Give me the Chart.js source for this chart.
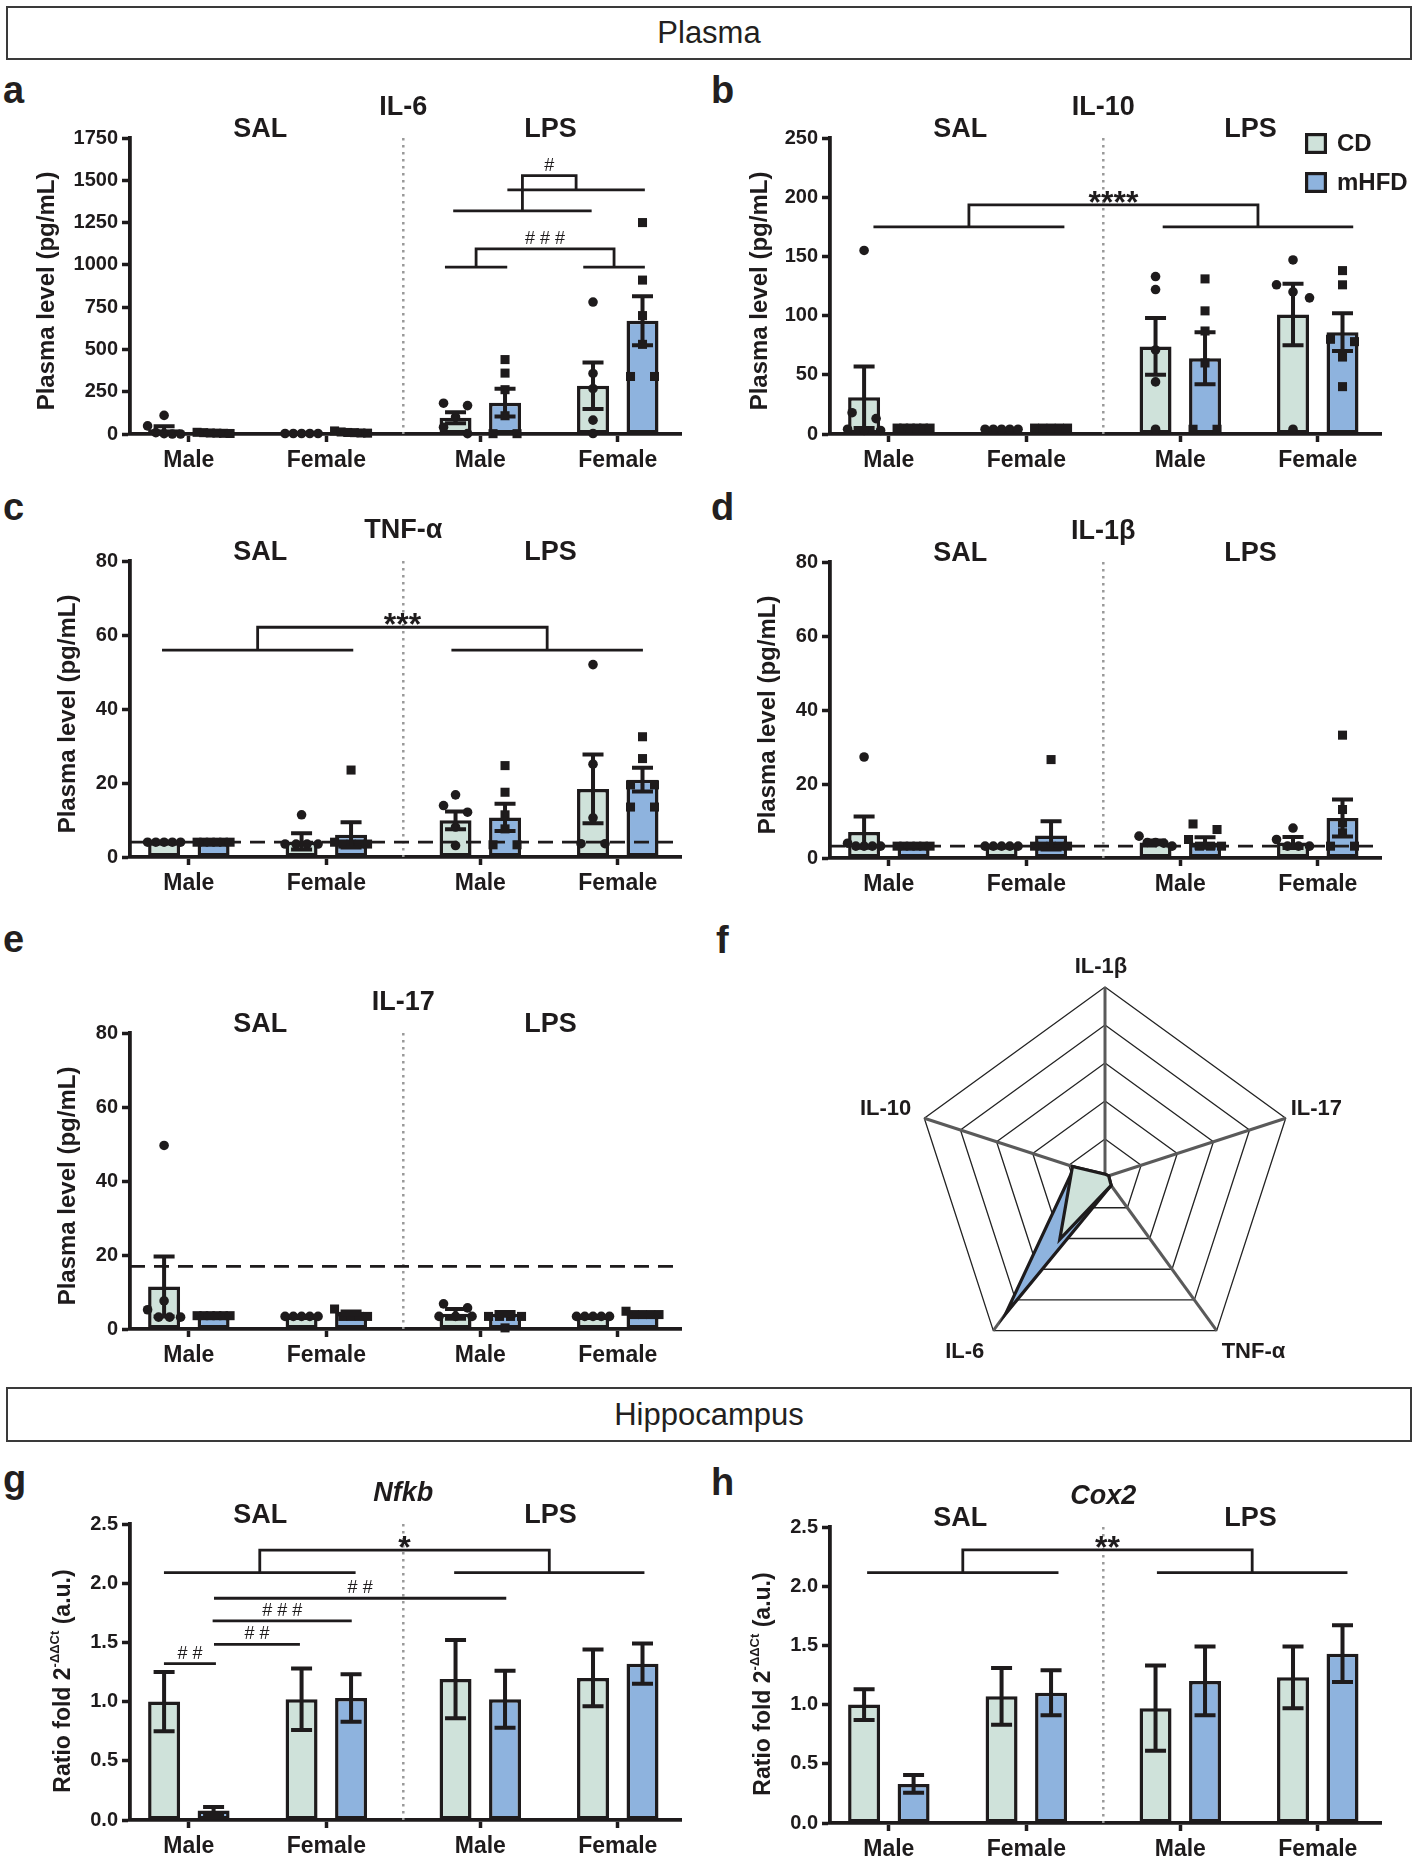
<!DOCTYPE html>
<html>
<head>
<meta charset="utf-8">
<script src="https://cdn.jsdelivr.net/npm/chart.js@4.4.1/dist/chart.umd.min.js"></script>
<style>
html, body { margin: 0; padding: 0; background: #fff; overflow: hidden; }
body { width: 1418px; height: 1860px; position: relative; font-family: 'Liberation Sans', Arial, sans-serif; color: #231f20; }
.box { position: absolute; left: 6px; width: 1402px; border: 2px solid #3a3a3a; text-align: center; font-size: 31px; }
.lbl { position: absolute; font-weight: bold; font-size: 38px; line-height: 38px; }
canvas { position: absolute; }
</style>
</head>
<body>
<div class="box" style="top:6px;height:50px;line-height:50px;">Plasma</div>
<div class="box" style="top:1387px;height:51px;line-height:51px;">Hippocampus</div>
<div class="lbl" style="left:3px;top:71px">a</div>
<div class="lbl" style="left:711px;top:71px">b</div>
<div class="lbl" style="left:3px;top:488px">c</div>
<div class="lbl" style="left:711px;top:488px">d</div>
<div class="lbl" style="left:3px;top:920px">e</div>
<div class="lbl" style="left:716px;top:921px">f</div>
<div class="lbl" style="left:3px;top:1460px">g</div>
<div class="lbl" style="left:711px;top:1463px">h</div>
<canvas id="cvF" width="598" height="440" style="left:820px;top:940px"></canvas>
<script>
// ---- categories / labels ----
const groupLabels = ['Male', 'Female', 'Male', 'Female'];
const treatments = ['SAL', 'LPS'];
const seriesNames = ['CD', 'mHFD'];

// ---- a: IL-6 (pg/mL) ----
const il6CdMean = [28, 3, 96, 285];
const il6CdSem = [18, 0.5, 33, 137];
const il6HfdMean = [6, 10, 185, 670];
const il6HfdSem = [1.5, 3, 82, 145];
const il6CdPts = [[110, 48, 8, 2, 0, 0], [3, 3, 3, 3, 3], [182, 168, 100, 40, 2], [780, 358, 268, 82, 3]];
const il6HfdPts = [[10, 8, 6, 5, 4, 3], [18, 12, 9, 8, 6, 5], [440, 360, 262, 108, 2, 2], [1250, 910, 700, 530, 340, 340]];
const il6Brackets = [
  { l: [2.863, 3.316, 987], r: [3.869, 4.317, 987], top: 1095, text: '# # #' },
  { l: [2.923, 3.930, 1319], r: [3.317, 4.317, 1443], top: 1528, text: '#' }
];

// ---- b: IL-10 ----
const il10CdMean = [31, 4, 74, 101];
const il10CdSem = [26, 0.3, 24, 26];
const il10HfdMean = [5, 5, 64, 86];
const il10HfdSem = [0.3, 0.3, 22, 16];
const il10CdPts = [[155, 18, 13, 4, 3, 3], [4, 4, 4, 4, 4], [133, 122, 71, 44, 4], [147, 126, 120, 115, 4]];
const il10HfdPts = [[5, 5, 5, 5, 5, 5], [5, 5, 5, 5, 5], [131, 104, 87, 60, 4, 4], [138, 126, 80, 78, 65, 40]];
const il10Brackets = [{ l: [0.888, 2.277, 175], r: [2.992, 4.378, 175], top: 193.5, text: '****' }];

// ---- c: TNF-α ----
const tnfCdMean = [4.0, 4.2, 9.9, 18.4];
const tnfCdSem = [0.1, 2.2, 2.4, 9.3];
const tnfHfdMean = [4.0, 6.0, 10.7, 20.9];
const tnfHfdSem = [0.05, 3.4, 3.7, 3.2];
const tnfCdPts = [[4, 4, 4, 4, 4], [11.4, 3.5, 3.5, 3.5, 3.5], [16.8, 13.9, 12.1, 8.1, 3.1], [52, 25.1, 10.6, 3.6, 3.6]];
const tnfHfdPts = [[4, 4, 4, 4, 4, 4], [23.5, 4, 3.5, 3.5, 3.5, 3.5], [24.7, 17.5, 11.4, 7.6, 3.3, 3.3], [32.5, 26.6, 19.5, 19.5, 13.5, 13.5]];
const tnfLod = 4.0;
const tnfBrackets = [{ l: [0.805, 2.196, 55.9], r: [2.910, 4.303, 55.9], top: 62.1, text: '***' }];

// ---- d: IL-1β ----
const il1bCdMean = [7.0, 3.2, 4.2, 4.2];
const il1bCdSem = [4.2, 0.05, 0.5, 1.5];
const il1bHfdMean = [3.2, 6.1, 4.2, 10.8];
const il1bHfdSem = [0.05, 3.8, 1.4, 5.0];
const il1bCdPts = [[27.3, 4, 3.2, 3.2, 3.2, 3.2], [3.2, 3.2, 3.2, 3.2, 3.2], [5.9, 4.2, 4.2, 4.0, 3.2], [8.1, 5, 3.2, 3.2, 3.2]];
const il1bHfdPts = [[3.2, 3.2, 3.2, 3.2, 3.2, 3.2], [26.6, 3.2, 3.2, 3.2, 3.2, 3.2], [9.2, 7.7, 5, 3.2, 3.2, 3.2], [33.2, 13.1, 9.5, 6.8, 3.2, 3.2]];
const il1bLod = 3.2;

// ---- e: IL-17 ----
const il17CdMean = [11.5, 3.4, 4.1, 3.4];
const il17CdSem = [8.1, 0.05, 1.3, 0.05];
const il17HfdMean = [3.6, 4.3, 4.1, 4.1];
const il17HfdSem = [0.1, 0.4, 0.5, 0.2];
const il17CdPts = [[49.6, 7.6, 5.2, 3.2, 3.2, 3.2], [3.4, 3.4, 3.4, 3.4, 3.4], [6.8, 5.7, 3.4, 3.4, 3.4], [3.4, 3.4, 3.4, 3.4, 3.4]];
const il17HfdPts = [[3.6, 3.6, 3.6, 3.6, 3.6, 3.6], [5.4, 3.4, 3.4, 3.4, 3.4], [3.4, 3.4, 3.4, 3.4, 0.3], [4.8, 3.9, 3.9, 3.9, 3.9]];
const il17Lod = 16.9;

// ---- f: radar ----
const radarLabels = ['IL-1β', 'IL-17', 'TNF-α', 'IL-6', 'IL-10'];
const radarCd = [0.015, 0.02, 0.055, 0.405, 0.18];
const radarHfd = [0.015, 0.02, 0.055, 0.89, 0.17];

// ---- g: Nfkb ----
const nfkbCdMean = [1.0, 1.02, 1.19, 1.2];
const nfkbCdSem = [0.25, 0.26, 0.33, 0.24];
const nfkbHfdMean = [0.08, 1.03, 1.02, 1.32];
const nfkbHfdSem = [0.03, 0.2, 0.24, 0.17];
const nfkbBrackets = [{ l: [0.819, 2.213, 2.09], r: [2.93, 4.314, 2.09], top: 2.28, text: '*' }];
const nfkbLines = [
  { x: [1.183, 3.309], y: 1.873, text: '# #' },
  { x: [1.173, 2.185], y: 1.681, text: '# # #' },
  { x: [1.183, 1.808], y: 1.484, text: '# #' },
  { x: [0.819, 1.197], y: 1.32, text: '# #' }
];

// ---- h: Cox2 ----
const cox2CdMean = [1.0, 1.07, 0.97, 1.23];
const cox2CdSem = [0.13, 0.24, 0.36, 0.26];
const cox2HfdMean = [0.33, 1.1, 1.2, 1.43];
const cox2HfdSem = [0.075, 0.19, 0.29, 0.24];
const cox2Brackets = [{ l: [0.842, 2.234, 2.115], r: [2.95, 4.336, 2.115], top: 2.307, text: '**' }];

// ---- layout / style ----
const FONT = "'Liberation Sans', Arial, Helvetica, sans-serif";
const INK = '#1e1b1c';
const CD_FILL = '#cfe2da';
const HFD_FILL = '#8eb3de';
const groupPos = [1, 2, 3.12, 4.12];
const X_MIN = 0.572, X_MAX = 4.58;
const UNIT_PX = 137.5;
const AXIS_LEN = 551;
const BAR_OFF = 0.18;
const DIVIDER = 2.56, SAL_X = 1.52, LPS_X = 3.63;
const PAD_TOP = 90, PLOT_H = 296, X_AREA = 50;
const COLS = [{ left: 0, width: 700, axis: 130 }, { left: 700, width: 718, axis: 130 }];
const plasmaTitle = [['Plasma level (pg/mL)', 24, 0]];
const ratioTitle = [['Ratio fold 2', 23, 0], ['-ΔΔCt', 13, 9], [' (a.u.)', 23, 0]];

Chart.defaults.font.family = FONT;
Chart.defaults.color = INK;

// Prism-like horizontal spreading of points that sit on top of each other
function spread(vals, pxPerVal) {
  const order = vals.map((v, i) => i).sort((a, b) => vals[b] - vals[a]);
  const off = vals.map(() => 0);
  let run = [];
  const flush = () => {
    const n = run.length;
    const step = n > 1 ? Math.min(24, 33 / (n - 1)) : 0;
    run.forEach((k, j) => { off[k] = (j - (n - 1) / 2) * step; });
    run = [];
  };
  order.forEach(k => {
    if (run.length && (vals[run[run.length - 1]] - vals[k]) * pxPerVal > 8) flush();
    run.push(k);
  });
  flush();
  return off;
}

function pointData(groups, side, pxPerVal) {
  const out = [];
  groups.forEach((vals, g) => {
    const off = spread(vals, pxPerVal);
    vals.forEach((v, k) => out.push({ x: groupPos[g] + side * BAR_OFF + off[k] / UNIT_PX, y: v }));
  });
  return out;
}

function drawYTitle(ctx, ca, p) {
  ctx.save();
  ctx.translate(ca.left + p.yTitleOff, (ca.top + ca.bottom) / 2 + p.yTitleDy);
  ctx.rotate(-Math.PI / 2);
  ctx.textBaseline = 'middle';
  ctx.textAlign = 'left';
  ctx.fillStyle = INK;
  let total = 0;
  p.yTitle.forEach(([t, s]) => { ctx.font = `bold ${s}px ${FONT}`; total += ctx.measureText(t).width; });
  let cx = -total / 2;
  p.yTitle.forEach(([t, s, rise]) => {
    ctx.font = `bold ${s}px ${FONT}`;
    ctx.fillText(t, cx, -rise);
    cx += ctx.measureText(t).width;
  });
  ctx.restore();
}

function annotText(ctx, text, xPix, lineY) {
  const star = text.indexOf('*') >= 0;
  ctx.font = star ? `bold 32px ${FONT}` : `18px ${FONT}`;
  ctx.textAlign = 'center';
  ctx.textBaseline = 'alphabetic';
  ctx.fillText(text, xPix, star ? lineY + 8 : lineY - 5);
}

function decorPlugin(p) {
  return {
    id: 'decor',
    beforeDatasetsDraw(chart) {
      const { ctx, chartArea: ca, scales: { x } } = chart;
      const dx = x.getPixelForValue(DIVIDER);
      ctx.save();
      ctx.strokeStyle = '#999';
      ctx.lineWidth = 2.5;
      ctx.setLineDash([2.5, 4.5]);
      ctx.beginPath(); ctx.moveTo(dx, ca.top); ctx.lineTo(dx, ca.bottom); ctx.stroke();
      ctx.restore();
    },
    afterDatasetsDraw(chart) {
      const { ctx, chartArea: ca, scales: { x, y } } = chart;
      const px = v => x.getPixelForValue(v), py = v => y.getPixelForValue(v);
      ctx.save();
      ctx.strokeStyle = INK;
      ctx.fillStyle = INK;
      if (p.lod !== undefined) {
        ctx.lineWidth = 2.8;
        ctx.setLineDash([15, 9]);
        ctx.beginPath(); ctx.moveTo(ca.left, py(p.lod)); ctx.lineTo(ca.right, py(p.lod)); ctx.stroke();
        ctx.setLineDash([]);
      }
      // SEM error bars
      [[0, p.cdMean, p.cdSem], [1, p.hfdMean, p.hfdSem]].forEach(([di, m, s]) => {
        chart.getDatasetMeta(di).data.forEach((bar, i) => {
          const yt = py(m[i] + s[i]), yb = py(Math.max(0, m[i] - s[i]));
          ctx.lineWidth = 4;
          ctx.beginPath();
          ctx.moveTo(bar.x, yt); ctx.lineTo(bar.x, yb);
          ctx.moveTo(bar.x - 10.5, yt); ctx.lineTo(bar.x + 10.5, yt);
          ctx.moveTo(bar.x - 10.5, yb); ctx.lineTo(bar.x + 10.5, yb);
          ctx.stroke();
        });
      });
      // significance brackets
      ctx.lineWidth = 2.8;
      (p.brackets || []).forEach(b => {
        const lm = (b.l[0] + b.l[1]) / 2, rm = (b.r[0] + b.r[1]) / 2;
        ctx.beginPath();
        ctx.moveTo(px(b.l[0]), py(b.l[2])); ctx.lineTo(px(b.l[1]), py(b.l[2]));
        ctx.moveTo(px(b.r[0]), py(b.r[2])); ctx.lineTo(px(b.r[1]), py(b.r[2]));
        ctx.moveTo(px(lm), py(b.l[2])); ctx.lineTo(px(lm), py(b.top));
        ctx.lineTo(px(rm), py(b.top)); ctx.lineTo(px(rm), py(b.r[2]));
        ctx.stroke();
        annotText(ctx, b.text, px((lm + rm) / 2), py(b.top));
      });
      (p.lines || []).forEach(l => {
        ctx.beginPath();
        ctx.moveTo(px(l.x[0]), py(l.y)); ctx.lineTo(px(l.x[1]), py(l.y));
        ctx.stroke();
        annotText(ctx, l.text, px((l.x[0] + l.x[1]) / 2), py(l.y));
      });
      ctx.restore();
    },
    afterDraw(chart) {
      const { ctx, chartArea: ca, scales: { x } } = chart;
      ctx.save();
      ctx.fillStyle = INK;
      ctx.textAlign = 'center';
      ctx.textBaseline = 'middle';
      ctx.font = `${p.italic ? 'italic ' : ''}bold 27px ${FONT}`;
      ctx.fillText(p.title, x.getPixelForValue(DIVIDER), ca.top - 30);
      ctx.font = `bold 27px ${FONT}`;
      ctx.fillText(treatments[0], x.getPixelForValue(SAL_X), ca.top - 8);
      ctx.fillText(treatments[1], x.getPixelForValue(LPS_X), ca.top - 8);
      if (p.legend) {
        const bx = ca.left + 475, by = ca.top - 5;
        [CD_FILL, HFD_FILL].forEach((c, i) => {
          const yy = by + i * 39;
          ctx.fillStyle = c;
          ctx.fillRect(bx, yy, 22, 21);
          ctx.strokeStyle = INK;
          ctx.lineWidth = 3.2;
          ctx.strokeRect(bx + 1.6, yy + 1.6, 18.8, 17.8);
          ctx.fillStyle = INK;
          ctx.textAlign = 'left';
          ctx.font = `bold 24px ${FONT}`;
          ctx.fillText(seriesNames[i], bx + 32, yy + 11);
        });
      }
      ctx.restore();
      drawYTitle(ctx, ca, p);
    }
  };
}

function makeBarChart(s) {
  const col = COLS[s.col];
  const cv = document.createElement('canvas');
  cv.width = col.width;
  cv.height = PAD_TOP + PLOT_H + X_AREA;
  cv.style.left = col.left + 'px';
  cv.style.top = (s.top - PAD_TOP) + 'px';
  document.body.appendChild(cv);
  const pxPerVal = PLOT_H / s.yMax;
  const barStyle = { type: 'bar', borderColor: INK, borderWidth: 3.5, borderSkipped: false, order: 2,
    categoryPercentage: 0.72, barPercentage: 0.646 };
  const datasets = [
    Object.assign({ label: seriesNames[0], backgroundColor: CD_FILL,
      data: groupPos.map((g, i) => ({ x: g, y: s.cdMean[i] })) }, barStyle),
    Object.assign({ label: seriesNames[1], backgroundColor: HFD_FILL,
      data: groupPos.map((g, i) => ({ x: g, y: s.hfdMean[i] })) }, barStyle)
  ];
  if (s.cdPts) {
    datasets.push({ type: 'scatter', label: seriesNames[0] + ' animals', data: pointData(s.cdPts, -1, pxPerVal),
      pointStyle: 'circle', pointRadius: 4.8, backgroundColor: INK, borderWidth: 0, order: 1, clip: false });
    datasets.push({ type: 'scatter', label: seriesNames[1] + ' animals', data: pointData(s.hfdPts, 1, pxPerVal),
      pointStyle: 'rect', pointRadius: 6.4, backgroundColor: INK, borderWidth: 0, order: 1, clip: false });
  }
  const grid = { display: true, offset: false, drawOnChartArea: false, drawTicks: true, tickLength: 8,
    tickWidth: 3.5, tickColor: INK };
  const border = { display: true, color: INK, width: 3.8 };
  new Chart(cv, {
    type: 'bar',
    data: { datasets },
    options: {
      responsive: false,
      animation: false,
      events: [],
      layout: { padding: { top: PAD_TOP, left: 0, right: col.width - col.axis - AXIS_LEN, bottom: 0 } },
      plugins: { legend: { display: false }, tooltip: { enabled: false } },
      scales: {
        x: {
          type: 'linear', min: X_MIN, max: X_MAX, offset: false,
          afterBuildTicks: ax => { ax.ticks = groupPos.map(v => ({ value: v })); },
          afterFit: ax => { ax.height = X_AREA; },
          ticks: { autoSkip: false, maxRotation: 0, padding: 5, color: INK,
            font: { size: 23, weight: 'bold' }, callback: (v, i) => groupLabels[i] },
          grid, border
        },
        y: {
          min: 0, max: s.yMax,
          afterFit: ax => { ax.width = col.axis; },
          ticks: { stepSize: s.yStep, padding: 4, color: INK, font: { size: 20, weight: 'bold' },
            callback: v => Number(v).toFixed(s.dec) },
          grid, border
        }
      }
    },
    plugins: [decorPlugin(s)]
  });
}

const panelSpecs = [
  { col: 0, top: 138, yMax: 1750, yStep: 250, dec: 0, title: 'IL-6', yTitle: plasmaTitle, yTitleOff: -83, yTitleDy: 5,
    cdMean: il6CdMean, cdSem: il6CdSem, hfdMean: il6HfdMean, hfdSem: il6HfdSem, cdPts: il6CdPts, hfdPts: il6HfdPts,
    brackets: il6Brackets },
  { col: 1, top: 138, yMax: 250, yStep: 50, dec: 0, title: 'IL-10', yTitle: plasmaTitle, yTitleOff: -70, yTitleDy: 5,
    cdMean: il10CdMean, cdSem: il10CdSem, hfdMean: il10HfdMean, hfdSem: il10HfdSem, cdPts: il10CdPts, hfdPts: il10HfdPts,
    brackets: il10Brackets, legend: true },
  { col: 0, top: 561, yMax: 80, yStep: 20, dec: 0, title: 'TNF-α', yTitle: plasmaTitle, yTitleOff: -62, yTitleDy: 5,
    cdMean: tnfCdMean, cdSem: tnfCdSem, hfdMean: tnfHfdMean, hfdSem: tnfHfdSem, cdPts: tnfCdPts, hfdPts: tnfHfdPts,
    lod: tnfLod, brackets: tnfBrackets },
  { col: 1, top: 562, yMax: 80, yStep: 20, dec: 0, title: 'IL-1β', yTitle: plasmaTitle, yTitleOff: -62, yTitleDy: 5,
    cdMean: il1bCdMean, cdSem: il1bCdSem, hfdMean: il1bHfdMean, hfdSem: il1bHfdSem, cdPts: il1bCdPts, hfdPts: il1bHfdPts,
    lod: il1bLod },
  { col: 0, top: 1033, yMax: 80, yStep: 20, dec: 0, title: 'IL-17', yTitle: plasmaTitle, yTitleOff: -62, yTitleDy: 5,
    cdMean: il17CdMean, cdSem: il17CdSem, hfdMean: il17HfdMean, hfdSem: il17HfdSem, cdPts: il17CdPts, hfdPts: il17HfdPts,
    lod: il17Lod },
  { col: 0, top: 1524, yMax: 2.5, yStep: 0.5, dec: 1, title: 'Nfkb', italic: true, yTitle: ratioTitle, yTitleOff: -66, yTitleDy: 9,
    cdMean: nfkbCdMean, cdSem: nfkbCdSem, hfdMean: nfkbHfdMean, hfdSem: nfkbHfdSem,
    brackets: nfkbBrackets, lines: nfkbLines },
  { col: 1, top: 1527, yMax: 2.5, yStep: 0.5, dec: 1, title: 'Cox2', italic: true, yTitle: ratioTitle, yTitleOff: -66, yTitleDy: 9,
    cdMean: cox2CdMean, cdSem: cox2CdSem, hfdMean: cox2HfdMean, hfdSem: cox2HfdSem,
    brackets: cox2Brackets }
];
panelSpecs.forEach(makeBarChart);

// ---- f: radar ----
const RADAR_LABEL_POS = [[-4, -20, 'center'], [5, -9, 'left'], [5, 21, 'left'], [-9, 21, 'right'], [-13, -9, 'right']];
const radarLabelPlugin = {
  id: 'radarLabels',
  afterDraw(chart) {
    const { ctx } = chart;
    const r = chart.scales.r;
    ctx.save();
    ctx.font = `bold 22px ${FONT}`;
    ctx.fillStyle = INK;
    ctx.textBaseline = 'middle';
    chart.data.labels.forEach((lab, i) => {
      const pt = r.getPointPosition(i, r.drawingArea);
      const [dx, dy, align] = RADAR_LABEL_POS[i];
      ctx.textAlign = align;
      ctx.fillText(lab, pt.x + dx, pt.y + dy);
    });
    ctx.restore();
  }
};
new Chart(document.getElementById('cvF'), {
  type: 'radar',
  data: {
    labels: radarLabels,
    datasets: [
      { label: seriesNames[0], data: radarCd, backgroundColor: CD_FILL, borderColor: INK, borderWidth: 3.2,
        pointRadius: 0, fill: true, tension: 0 },
      { label: seriesNames[1], data: radarHfd, backgroundColor: HFD_FILL, borderColor: INK, borderWidth: 3.2,
        pointRadius: 0, fill: true, tension: 0 }
    ]
  },
  options: {
    responsive: false,
    animation: false,
    events: [],
    layout: { padding: { left: 95, top: 47, right: 123, bottom: 13 } },
    plugins: { legend: { display: false }, tooltip: { enabled: false } },
    scales: {
      r: {
        min: 0, max: 1,
        ticks: { display: false, stepSize: 0.2 },
        pointLabels: { display: false },
        grid: { color: '#222', lineWidth: 1.3 },
        angleLines: { color: '#5a5a5a', lineWidth: 3 }
      }
    }
  },
  plugins: [radarLabelPlugin]
});
</script>
</body>
</html>
